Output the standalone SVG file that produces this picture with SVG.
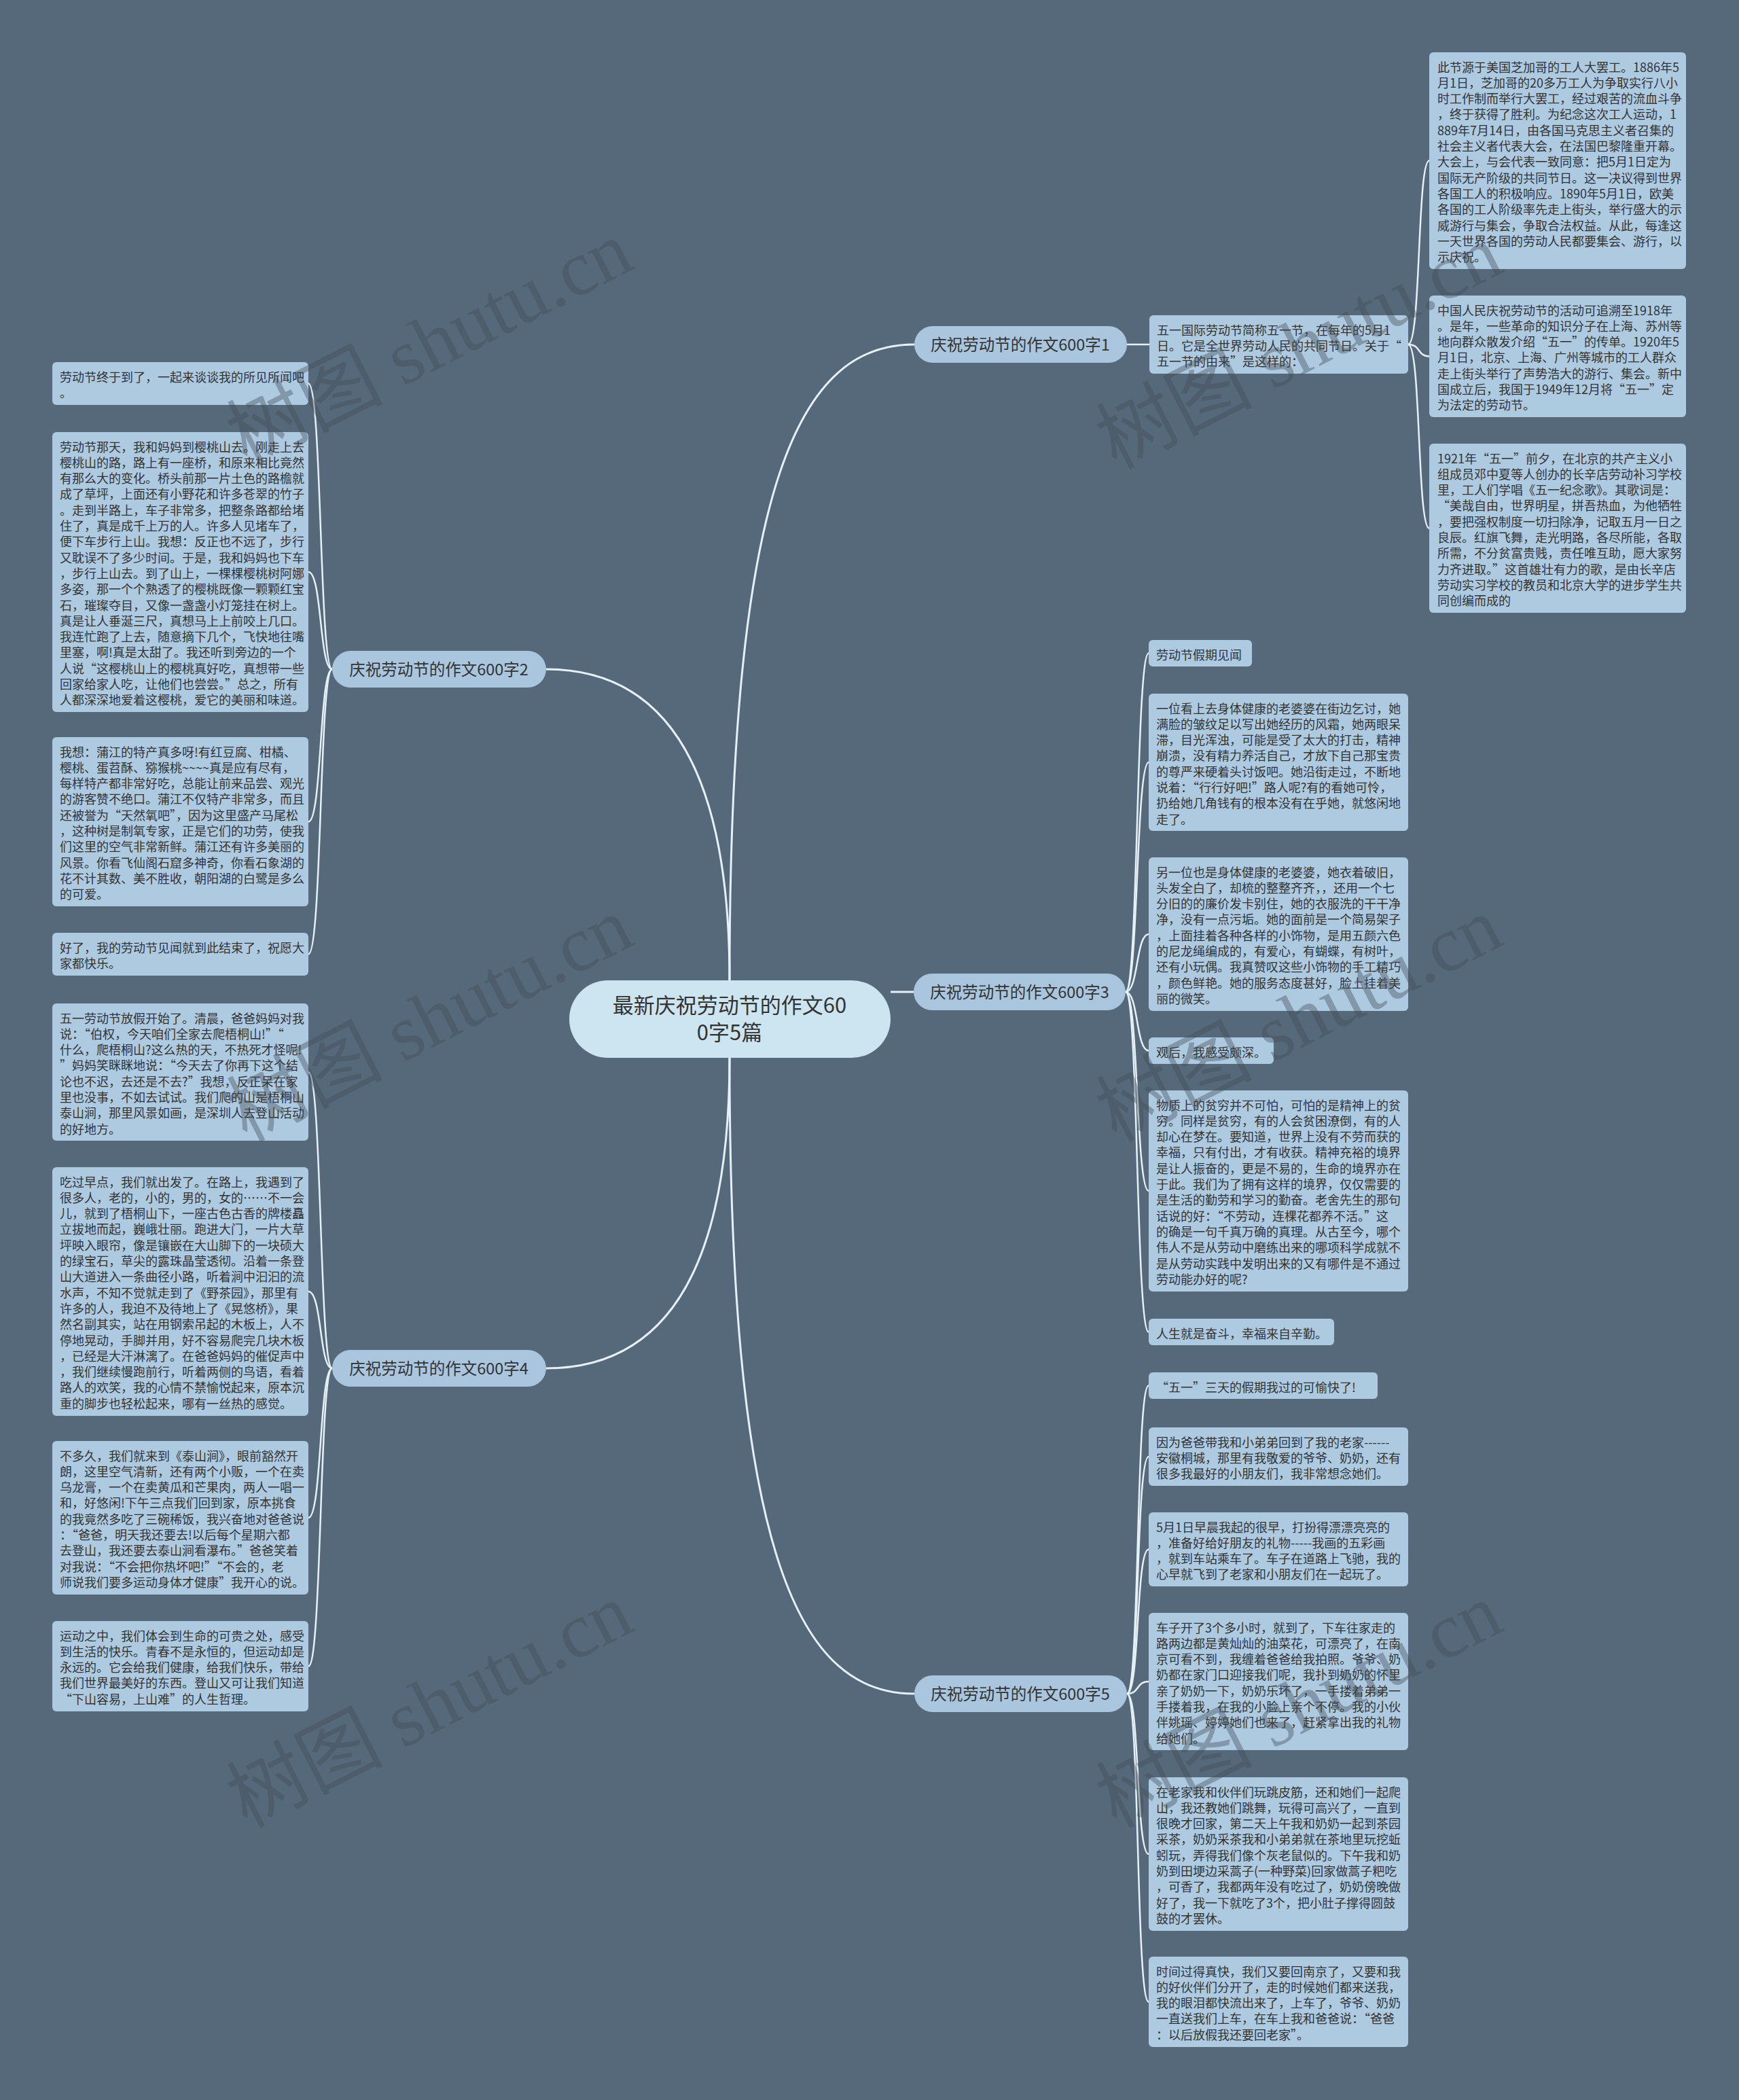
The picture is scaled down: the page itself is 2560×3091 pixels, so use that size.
<svg xmlns="http://www.w3.org/2000/svg" width="2560" height="3091" viewBox="0 0 2560 3091">
<style>
.leaf{fill:#aecae1;}
.t{font-family:"Noto Sans CJK SC","Noto Sans",sans-serif;font-size:18px;fill:#333333;}
.br{fill:#a9c6de;}
.bt{font-family:"Noto Sans CJK SC","Noto Sans",sans-serif;font-size:23.5px;fill:#333333;text-anchor:middle;}
.rt{font-family:"Noto Sans CJK SC","Noto Sans",sans-serif;font-size:31px;fill:#333333;text-anchor:middle;}
.c{fill:none;stroke:#e6f0f7;stroke-width:2.5;}
.cm{fill:none;stroke:#e6f0f7;stroke-width:3;}
.wm{font-family:"Liberation Serif","Noto Sans CJK SC",serif;font-size:115px;fill:#424d57;opacity:0.4;text-anchor:middle;}
</style>
<rect x="0" y="0" width="2560" height="3091" fill="#56697a"/>

<g id="connectors">
<path class="cm" d="M1074 1443 C1074 700 1180 507 1346 507"/>
<path class="cm" d="M1074 1443 C1074 1100 960 985 804 985"/>
<path class="cm" d="M1311 1460 L1345 1460"/>
<path class="cm" d="M1074 1557 C1074 1900 960 2014 804 2014"/>
<path class="cm" d="M1074 1557 C1074 2300 1180 2493 1346 2493"/>
<path class="c" d="M1659 507 L1692 507"/>
<path class="c" d="M2073 507 C2092 507 2086 236.5 2104 236.5"/>
<path class="c" d="M2073 507 C2092 507 2086 524.5 2104 524.5"/>
<path class="c" d="M2073 507 C2092 507 2086 777.5 2104 777.5"/>
<path class="c" d="M1657 1460 C1676 1460 1672 961.5 1691 961.5"/>
<path class="c" d="M1657 1460 C1676 1460 1672 1122 1691 1122"/>
<path class="c" d="M1657 1460 C1676 1460 1672 1375 1691 1375"/>
<path class="c" d="M1657 1460 C1676 1460 1672 1546.5 1691 1546.5"/>
<path class="c" d="M1657 1460 C1676 1460 1672 1753 1691 1753"/>
<path class="c" d="M1657 1460 C1676 1460 1672 1960.5 1691 1960.5"/>
<path class="c" d="M1659 2493 C1678 2493 1672 2039.5 1691 2039.5"/>
<path class="c" d="M1659 2493 C1678 2493 1672 2144 1691 2144"/>
<path class="c" d="M1659 2493 C1678 2493 1672 2280.5 1691 2280.5"/>
<path class="c" d="M1659 2493 C1678 2493 1672 2475 1691 2475"/>
<path class="c" d="M1659 2493 C1678 2493 1672 2729 1691 2729"/>
<path class="c" d="M1659 2493 C1678 2493 1672 2946.5 1691 2946.5"/>
<path class="c" d="M489 985 C470 985 474 564.5 454 564.5"/>
<path class="c" d="M489 985 C470 985 474 842 454 842"/>
<path class="c" d="M489 985 C470 985 474 1209.5 454 1209.5"/>
<path class="c" d="M489 985 C470 985 474 1404.5 454 1404.5"/>
<path class="c" d="M489 2014 C470 2014 474 1578 454 1578"/>
<path class="c" d="M489 2014 C470 2014 474 1901 454 1901"/>
<path class="c" d="M489 2014 C470 2014 474 2234 454 2234"/>
<path class="c" d="M489 2014 C470 2014 474 2452.5 454 2452.5"/>
</g>

<g id="root">
<rect x="838" y="1443" width="473" height="114" rx="57" fill="#cde4f1"/>
<text class="rt" x="1074" y="1491">最新庆祝劳动节的作文60</text>
<text class="rt" x="1074" y="1531">0字5篇</text>
</g>

<g id="branch1">
<rect class="br" x="1346" y="480" width="313" height="54" rx="27"/>
<text class="bt" x="1502" y="515.5">庆祝劳动节的作文600字1</text>
</g>
<g id="branch2">
<rect class="br" x="489" y="958" width="315" height="54" rx="27"/>
<text class="bt" x="646" y="993.5">庆祝劳动节的作文600字2</text>
</g>
<g id="branch3">
<rect class="br" x="1345" y="1433" width="312" height="54" rx="27"/>
<text class="bt" x="1501" y="1468.5">庆祝劳动节的作文600字3</text>
</g>
<g id="branch4">
<rect class="br" x="489" y="1987" width="315" height="54" rx="27"/>
<text class="bt" x="646" y="2022.5">庆祝劳动节的作文600字4</text>
</g>
<g id="branch5">
<rect class="br" x="1346" y="2466" width="313" height="54" rx="27"/>
<text class="bt" x="1502" y="2501.5">庆祝劳动节的作文600字5</text>
</g>

<g id="b1-intro">
<rect class="leaf" x="1692" y="464" width="381" height="86" rx="6"/>
<text class="t" x="1703" y="492.5"><tspan x="1703">五一国际劳动节简称五一节，在每年的5月1</tspan><tspan x="1703" dy="23.3">日。它是全世界劳动人民的共同节日。关于“</tspan><tspan x="1703" dy="23.3">五一节的由来”是这样的：</tspan></text>
</g>
<g id="b1-leaf1">
<rect class="leaf" x="2104" y="77" width="378" height="319" rx="6"/>
<text class="t" x="2116" y="105.5"><tspan x="2116">此节源于美国芝加哥的工人大罢工。1886年5</tspan><tspan x="2116" dy="23.3">月1日，芝加哥的20多万工人为争取实行八小</tspan><tspan x="2116" dy="23.3">时工作制而举行大罢工，经过艰苦的流血斗争</tspan><tspan x="2116" dy="23.3">，终于获得了胜利。为纪念这次工人运动，1</tspan><tspan x="2116" dy="23.3">889年7月14日，由各国马克思主义者召集的</tspan><tspan x="2116" dy="23.3">社会主义者代表大会，在法国巴黎隆重开幕。</tspan><tspan x="2116" dy="23.3">大会上，与会代表一致同意：把5月1日定为</tspan><tspan x="2116" dy="23.3">国际无产阶级的共同节日。这一决议得到世界</tspan><tspan x="2116" dy="23.3">各国工人的积极响应。1890年5月1日，欧美</tspan><tspan x="2116" dy="23.3">各国的工人阶级率先走上街头，举行盛大的示</tspan><tspan x="2116" dy="23.3">威游行与集会，争取合法权益。从此，每逢这</tspan><tspan x="2116" dy="23.3">一天世界各国的劳动人民都要集会、游行，以</tspan><tspan x="2116" dy="23.3">示庆祝。</tspan></text>
</g>
<g id="b1-leaf2">
<rect class="leaf" x="2104" y="435" width="378" height="179" rx="6"/>
<text class="t" x="2116" y="463.5"><tspan x="2116">中国人民庆祝劳动节的活动可追溯至1918年</tspan><tspan x="2116" dy="23.3">。是年，一些革命的知识分子在上海、苏州等</tspan><tspan x="2116" dy="23.3">地向群众散发介绍“五一”的传单。1920年5</tspan><tspan x="2116" dy="23.3">月1日，北京、上海、广州等城市的工人群众</tspan><tspan x="2116" dy="23.3">走上街头举行了声势浩大的游行、集会。新中</tspan><tspan x="2116" dy="23.3">国成立后，我国于1949年12月将“五一”定</tspan><tspan x="2116" dy="23.3">为法定的劳动节。</tspan></text>
</g>
<g id="b1-leaf3">
<rect class="leaf" x="2104" y="653" width="378" height="249" rx="6"/>
<text class="t" x="2116" y="681.5"><tspan x="2116">1921年“五一”前夕，在北京的共产主义小</tspan><tspan x="2116" dy="23.3">组成员邓中夏等人创办的长辛店劳动补习学校</tspan><tspan x="2116" dy="23.3">里，工人们学唱《五一纪念歌》。其歌词是：</tspan><tspan x="2116" dy="23.3">“美哉自由，世界明星，拼吾热血，为他牺牲</tspan><tspan x="2116" dy="23.3">，要把强权制度一切扫除净，记取五月一日之</tspan><tspan x="2116" dy="23.3">良辰。红旗飞舞，走光明路，各尽所能，各取</tspan><tspan x="2116" dy="23.3">所需，不分贫富贵贱，责任唯互助，愿大家努</tspan><tspan x="2116" dy="23.3">力齐进取。”这首雄壮有力的歌，是由长辛店</tspan><tspan x="2116" dy="23.3">劳动实习学校的教员和北京大学的进步学生共</tspan><tspan x="2116" dy="23.3">同创编而成的</tspan></text>
</g>

<g id="b2-leaf1">
<rect class="leaf" x="77" y="533" width="377" height="63" rx="6"/>
<text class="t" x="88" y="561.5"><tspan x="88">劳动节终于到了，一起来谈谈我的所见所闻吧</tspan><tspan x="88" dy="23.3">。</tspan></text>
</g>
<g id="b2-leaf2">
<rect class="leaf" x="77" y="636" width="377" height="412" rx="6"/>
<text class="t" x="88" y="664.5"><tspan x="88">劳动节那天，我和妈妈到樱桃山去。刚走上去</tspan><tspan x="88" dy="23.3">樱桃山的路，路上有一座桥，和原来相比竟然</tspan><tspan x="88" dy="23.3">有那么大的变化。桥头前那一片土色的路檐就</tspan><tspan x="88" dy="23.3">成了草坪，上面还有小野花和许多苍翠的竹子</tspan><tspan x="88" dy="23.3">。走到半路上，车子非常多，把整条路都给堵</tspan><tspan x="88" dy="23.3">住了，真是成千上万的人。许多人见堵车了，</tspan><tspan x="88" dy="23.3">便下车步行上山。我想：反正也不远了，步行</tspan><tspan x="88" dy="23.3">又耽误不了多少时间。于是，我和妈妈也下车</tspan><tspan x="88" dy="23.3">，步行上山去。到了山上，一棵棵樱桃树阿娜</tspan><tspan x="88" dy="23.3">多姿，那一个个熟透了的樱桃既像一颗颗红宝</tspan><tspan x="88" dy="23.3">石，璀璨夺目，又像一盏盏小灯笼挂在树上。</tspan><tspan x="88" dy="23.3">真是让人垂涎三尺，真想马上上前咬上几口。</tspan><tspan x="88" dy="23.3">我连忙跑了上去，随意摘下几个，飞快地往嘴</tspan><tspan x="88" dy="23.3">里塞，啊!真是太甜了。我还听到旁边的一个</tspan><tspan x="88" dy="23.3">人说“这樱桃山上的樱桃真好吃，真想带一些</tspan><tspan x="88" dy="23.3">回家给家人吃，让他们也尝尝。”总之，所有</tspan><tspan x="88" dy="23.3">人都深深地爱着这樱桃，爱它的美丽和味道。</tspan></text>
</g>
<g id="b2-leaf3">
<rect class="leaf" x="77" y="1085" width="377" height="249" rx="6"/>
<text class="t" x="88" y="1113.5"><tspan x="88">我想：蒲江的特产真多呀!有红豆腐、柑橘、</tspan><tspan x="88" dy="23.3">樱桃、蛋苕酥、猕猴桃~~~~真是应有尽有，</tspan><tspan x="88" dy="23.3">每样特产都非常好吃，总能让前来品尝、观光</tspan><tspan x="88" dy="23.3">的游客赞不绝口。蒲江不仅特产非常多，而且</tspan><tspan x="88" dy="23.3">还被誉为“天然氧吧”，因为这里盛产马尾松</tspan><tspan x="88" dy="23.3">，这种树是制氧专家，正是它们的功劳，使我</tspan><tspan x="88" dy="23.3">们这里的空气非常新鲜。蒲江还有许多美丽的</tspan><tspan x="88" dy="23.3">风景。你看飞仙阁石窟多神奇，你看石象湖的</tspan><tspan x="88" dy="23.3">花不计其数、美不胜收，朝阳湖的白鹭是多么</tspan><tspan x="88" dy="23.3">的可爱。</tspan></text>
</g>
<g id="b2-leaf4">
<rect class="leaf" x="77" y="1373" width="377" height="63" rx="6"/>
<text class="t" x="88" y="1401.5"><tspan x="88">好了，我的劳动节见闻就到此结束了，祝愿大</tspan><tspan x="88" dy="23.3">家都快乐。</tspan></text>
</g>

<g id="b3-leaf1">
<rect class="leaf" x="1691" y="942" width="152" height="39" rx="6"/>
<text class="t" x="1702" y="970.5">劳动节假期见闻</text>
</g>
<g id="b3-leaf2">
<rect class="leaf" x="1691" y="1021" width="382" height="202" rx="6"/>
<text class="t" x="1702" y="1049.5"><tspan x="1702">一位看上去身体健康的老婆婆在街边乞讨，她</tspan><tspan x="1702" dy="23.3">满脸的皱纹足以写出她经历的风霜，她两眼呆</tspan><tspan x="1702" dy="23.3">滞，目光浑浊，可能是受了太大的打击，精神</tspan><tspan x="1702" dy="23.3">崩溃，没有精力养活自己，才放下自己那宝贵</tspan><tspan x="1702" dy="23.3">的尊严来硬着头讨饭吧。她沿街走过，不断地</tspan><tspan x="1702" dy="23.3">说着：“行行好吧!”路人呢?有的看她可怜，</tspan><tspan x="1702" dy="23.3">扔给她几角钱有的根本没有在乎她，就悠闲地</tspan><tspan x="1702" dy="23.3">走了。</tspan></text>
</g>
<g id="b3-leaf3">
<rect class="leaf" x="1691" y="1262" width="382" height="226" rx="6"/>
<text class="t" x="1702" y="1290.5"><tspan x="1702">另一位也是身体健康的老婆婆，她衣着破旧，</tspan><tspan x="1702" dy="23.3">头发全白了，却梳的整整齐齐，，还用一个七</tspan><tspan x="1702" dy="23.3">分旧的的廉价发卡别住，她的衣服洗的干干净</tspan><tspan x="1702" dy="23.3">净，没有一点污垢。她的面前是一个简易架子</tspan><tspan x="1702" dy="23.3">，上面挂着各种各样的小饰物，是用五颜六色</tspan><tspan x="1702" dy="23.3">的尼龙绳编成的，有爱心，有蝴蝶，有树叶，</tspan><tspan x="1702" dy="23.3">还有小玩偶。我真赞叹这些小饰物的手工精巧</tspan><tspan x="1702" dy="23.3">，颜色鲜艳。她的服务态度甚好，脸上挂着美</tspan><tspan x="1702" dy="23.3">丽的微笑。</tspan></text>
</g>
<g id="b3-leaf4">
<rect class="leaf" x="1691" y="1527" width="184" height="39" rx="6"/>
<text class="t" x="1702" y="1555.5">观后，我感受颇深。</text>
</g>
<g id="b3-leaf5">
<rect class="leaf" x="1691" y="1605" width="382" height="296" rx="6"/>
<text class="t" x="1702" y="1633.5"><tspan x="1702">物质上的贫穷并不可怕，可怕的是精神上的贫</tspan><tspan x="1702" dy="23.3">穷。同样是贫穷，有的人会贫困潦倒，有的人</tspan><tspan x="1702" dy="23.3">却心在梦在。要知道，世界上没有不劳而获的</tspan><tspan x="1702" dy="23.3">幸福，只有付出，才有收获。精神充裕的境界</tspan><tspan x="1702" dy="23.3">是让人振奋的，更是不易的，生命的境界亦在</tspan><tspan x="1702" dy="23.3">于此。我们为了拥有这样的境界，仅仅需要的</tspan><tspan x="1702" dy="23.3">是生活的勤劳和学习的勤奋。老舍先生的那句</tspan><tspan x="1702" dy="23.3">话说的好：“不劳动，连棵花都养不活。”这</tspan><tspan x="1702" dy="23.3">的确是一句千真万确的真理。从古至今，哪个</tspan><tspan x="1702" dy="23.3">伟人不是从劳动中磨练出来的哪项科学成就不</tspan><tspan x="1702" dy="23.3">是从劳动实践中发明出来的又有哪件是不通过</tspan><tspan x="1702" dy="23.3">劳动能办好的呢?</tspan></text>
</g>
<g id="b3-leaf6">
<rect class="leaf" x="1691" y="1941" width="273" height="39" rx="6"/>
<text class="t" x="1702" y="1969.5">人生就是奋斗，幸福来自辛勤。</text>
</g>

<g id="b4-leaf1">
<rect class="leaf" x="77" y="1477" width="377" height="202" rx="6"/>
<text class="t" x="88" y="1505.5"><tspan x="88">五一劳动节放假开始了。清晨，爸爸妈妈对我</tspan><tspan x="88" dy="23.3">说：“伯权，今天咱们全家去爬梧桐山!”“</tspan><tspan x="88" dy="23.3">什么，爬梧桐山?这么热的天，不热死才怪呢!</tspan><tspan x="88" dy="23.3">”妈妈笑眯眯地说：“今天去了你再下这个结</tspan><tspan x="88" dy="23.3">论也不迟，去还是不去?”我想，反正呆在家</tspan><tspan x="88" dy="23.3">里也没事，不如去试试。我们爬的山是梧桐山</tspan><tspan x="88" dy="23.3">泰山涧，那里风景如画，是深圳人去登山活动</tspan><tspan x="88" dy="23.3">的好地方。</tspan></text>
</g>
<g id="b4-leaf2">
<rect class="leaf" x="77" y="1718" width="377" height="366" rx="6"/>
<text class="t" x="88" y="1746.5"><tspan x="88">吃过早点，我们就出发了。在路上，我遇到了</tspan><tspan x="88" dy="23.3">很多人，老的，小的，男的，女的……不一会</tspan><tspan x="88" dy="23.3">儿，就到了梧桐山下，一座古色古香的牌楼矗</tspan><tspan x="88" dy="23.3">立拔地而起，巍峨壮丽。跑进大门，一片大草</tspan><tspan x="88" dy="23.3">坪映入眼帘，像是镶嵌在大山脚下的一块硕大</tspan><tspan x="88" dy="23.3">的绿宝石，草尖的露珠晶莹透彻。沿着一条登</tspan><tspan x="88" dy="23.3">山大道进入一条曲径小路，听着涧中汩汩的流</tspan><tspan x="88" dy="23.3">水声，不知不觉就走到了《野茶园》，那里有</tspan><tspan x="88" dy="23.3">许多的人，我迫不及待地上了《晃悠桥》，果</tspan><tspan x="88" dy="23.3">然名副其实，站在用钢索吊起的木板上，人不</tspan><tspan x="88" dy="23.3">停地晃动，手脚并用，好不容易爬完几块木板</tspan><tspan x="88" dy="23.3">，已经是大汗淋漓了。在爸爸妈妈的催促声中</tspan><tspan x="88" dy="23.3">，我们继续慢跑前行，听着两侧的鸟语，看着</tspan><tspan x="88" dy="23.3">路人的欢笑，我的心情不禁愉悦起来，原本沉</tspan><tspan x="88" dy="23.3">重的脚步也轻松起来，哪有一丝热的感觉。</tspan></text>
</g>
<g id="b4-leaf3">
<rect class="leaf" x="77" y="2121" width="377" height="226" rx="6"/>
<text class="t" x="88" y="2149.5"><tspan x="88">不多久，我们就来到《泰山涧》，眼前豁然开</tspan><tspan x="88" dy="23.3">朗，这里空气清新，还有两个小贩，一个在卖</tspan><tspan x="88" dy="23.3">乌龙膏，一个在卖黄瓜和芒果肉，两人一唱一</tspan><tspan x="88" dy="23.3">和，好悠闲!下午三点我们回到家，原本挑食</tspan><tspan x="88" dy="23.3">的我竟然多吃了三碗稀饭，我兴奋地对爸爸说</tspan><tspan x="88" dy="23.3">：“爸爸，明天我还要去!以后每个星期六都</tspan><tspan x="88" dy="23.3">去登山，我还要去泰山涧看瀑布。”爸爸笑着</tspan><tspan x="88" dy="23.3">对我说：“不会把你热坏吧!”“不会的，老</tspan><tspan x="88" dy="23.3">师说我们要多运动身体才健康”我开心的说。</tspan></text>
</g>
<g id="b4-leaf4">
<rect class="leaf" x="77" y="2386" width="377" height="133" rx="6"/>
<text class="t" x="88" y="2414.5"><tspan x="88">运动之中，我们体会到生命的可贵之处，感受</tspan><tspan x="88" dy="23.3">到生活的快乐。青春不是永恒的，但运动却是</tspan><tspan x="88" dy="23.3">永远的。它会给我们健康，给我们快乐，带给</tspan><tspan x="88" dy="23.3">我们世界最美好的东西。登山又可让我们知道</tspan><tspan x="88" dy="23.3">“下山容易，上山难”的人生哲理。</tspan></text>
</g>

<g id="b5-leaf1">
<rect class="leaf" x="1691" y="2020" width="337" height="39" rx="6"/>
<text class="t" x="1702" y="2048.5">“五一”三天的假期我过的可愉快了!</text>
</g>
<g id="b5-leaf2">
<rect class="leaf" x="1691" y="2101" width="382" height="86" rx="6"/>
<text class="t" x="1702" y="2129.5"><tspan x="1702">因为爸爸带我和小弟弟回到了我的老家------</tspan><tspan x="1702" dy="23.3">安徽桐城，那里有我敬爱的爷爷、奶奶，还有</tspan><tspan x="1702" dy="23.3">很多我最好的小朋友们，我非常想念她们。</tspan></text>
</g>
<g id="b5-leaf3">
<rect class="leaf" x="1691" y="2226" width="382" height="109" rx="6"/>
<text class="t" x="1702" y="2254.5"><tspan x="1702">5月1日早晨我起的很早，打扮得漂漂亮亮的</tspan><tspan x="1702" dy="23.3">，准备好给好朋友的礼物-----我画的五彩画</tspan><tspan x="1702" dy="23.3">，就到车站乘车了。车子在道路上飞驰，我的</tspan><tspan x="1702" dy="23.3">心早就飞到了老家和小朋友们在一起玩了。</tspan></text>
</g>
<g id="b5-leaf4">
<rect class="leaf" x="1691" y="2374" width="382" height="202" rx="6"/>
<text class="t" x="1702" y="2402.5"><tspan x="1702">车子开了3个多小时，就到了，下车往家走的</tspan><tspan x="1702" dy="23.3">路两边都是黄灿灿的油菜花，可漂亮了，在南</tspan><tspan x="1702" dy="23.3">京可看不到，我缠着爸爸给我拍照。爷爷、奶</tspan><tspan x="1702" dy="23.3">奶都在家门口迎接我们呢，我扑到奶奶的怀里</tspan><tspan x="1702" dy="23.3">亲了奶奶一下，奶奶乐坏了，一手搂着弟弟一</tspan><tspan x="1702" dy="23.3">手搂着我，在我的小脸上亲个不停。我的小伙</tspan><tspan x="1702" dy="23.3">伴姚瑶、婷婷她们也来了，赶紧拿出我的礼物</tspan><tspan x="1702" dy="23.3">给她们。</tspan></text>
</g>
<g id="b5-leaf5">
<rect class="leaf" x="1691" y="2616" width="382" height="226" rx="6"/>
<text class="t" x="1702" y="2644.5"><tspan x="1702">在老家我和伙伴们玩跳皮筋，还和她们一起爬</tspan><tspan x="1702" dy="23.3">山，我还教她们跳舞，玩得可高兴了，一直到</tspan><tspan x="1702" dy="23.3">很晚才回家，第二天上午我和奶奶一起到茶园</tspan><tspan x="1702" dy="23.3">采茶，奶奶采茶我和小弟弟就在茶地里玩挖蚯</tspan><tspan x="1702" dy="23.3">蚓玩，弄得我们像个灰老鼠似的。下午我和奶</tspan><tspan x="1702" dy="23.3">奶到田埂边采蒿子(一种野菜)回家做蒿子粑吃</tspan><tspan x="1702" dy="23.3">，可香了，我都两年没有吃过了，奶奶傍晚做</tspan><tspan x="1702" dy="23.3">好了，我一下就吃了3个，把小肚子撑得圆鼓</tspan><tspan x="1702" dy="23.3">鼓的才罢休。</tspan></text>
</g>
<g id="b5-leaf6">
<rect class="leaf" x="1691" y="2880" width="382" height="133" rx="6"/>
<text class="t" x="1702" y="2908.5"><tspan x="1702">时间过得真快，我们又要回南京了，又要和我</tspan><tspan x="1702" dy="23.3">的好伙伴们分开了，走的时候她们都来送我，</tspan><tspan x="1702" dy="23.3">我的眼泪都快流出来了，上车了，爷爷、奶奶</tspan><tspan x="1702" dy="23.3">一直送我们上车，在车上我和爸爸说：“爸爸</tspan><tspan x="1702" dy="23.3">：以后放假我还要回老家”。</tspan></text>
</g>

<g id="watermarks">
<text class="wm" transform="translate(650 540) rotate(-27)">树图 shutu.cn</text>
<text class="wm" transform="translate(1930 545) rotate(-27)">树图 shutu.cn</text>
<text class="wm" transform="translate(650 1535) rotate(-27)">树图 shutu.cn</text>
<text class="wm" transform="translate(1930 1535) rotate(-27)">树图 shutu.cn</text>
<text class="wm" transform="translate(650 2545) rotate(-27)">树图 shutu.cn</text>
<text class="wm" transform="translate(1930 2545) rotate(-27)">树图 shutu.cn</text>
</g>
</svg>
